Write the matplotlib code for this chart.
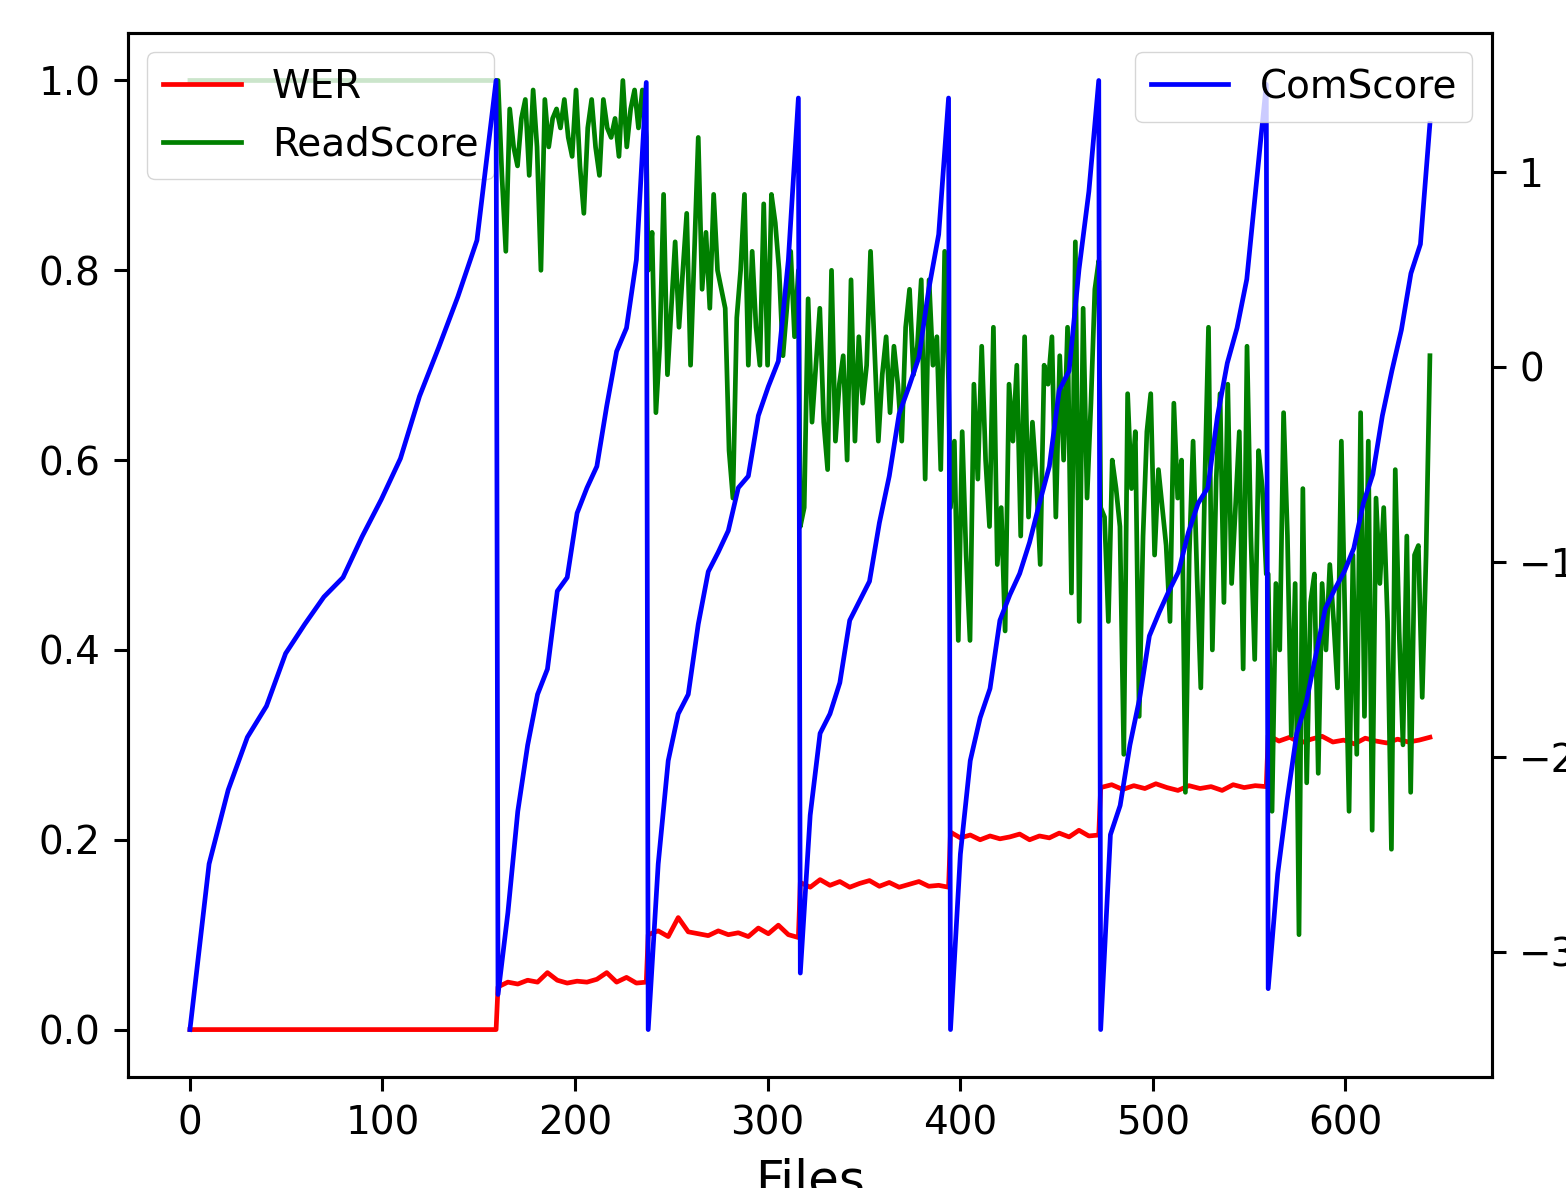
import numpy as np
import matplotlib
matplotlib.use('Agg')
import matplotlib.pyplot as plt

# file index range of each block (values inside a block are evenly spread over it)
seg_start = [0, 160, 238, 317, 395, 473, 560]
seg_end = [159, 237, 316, 394, 472, 559, 644]

# WER per block
wer = [
    [0.0, 0.0],
    [0.045, 0.050, 0.048, 0.052, 0.050, 0.060, 0.052, 0.049, 0.051, 0.050, 0.053, 0.060, 0.050, 0.055, 0.049, 0.050],
    [0.100, 0.104, 0.098, 0.118, 0.103, 0.101, 0.099, 0.104, 0.100, 0.102, 0.098, 0.107, 0.101, 0.110, 0.100, 0.097],
    [0.155, 0.150, 0.158, 0.152, 0.156, 0.150, 0.154, 0.157, 0.151, 0.155, 0.150, 0.153, 0.156, 0.151, 0.152, 0.150],
    [0.208, 0.202, 0.205, 0.200, 0.204, 0.201, 0.203, 0.206, 0.200, 0.204, 0.202, 0.207, 0.203, 0.210, 0.204, 0.205],
    [0.255, 0.258, 0.253, 0.257, 0.254, 0.259, 0.255, 0.252, 0.257, 0.254, 0.256, 0.252, 0.258, 0.255, 0.257, 0.256],
    [0.310, 0.304, 0.308, 0.302, 0.306, 0.309, 0.303, 0.305, 0.301, 0.307, 0.304, 0.302, 0.306, 0.303, 0.305, 0.308],
]

# ReadScore per block
read_score = [
    [1.0, 1.0],
    [1.00, 0.90, 0.82, 0.97, 0.93, 0.91, 0.96, 0.98, 0.90, 0.99, 0.93, 0.80, 0.98,
     0.93, 0.96, 0.97, 0.95, 0.98, 0.94, 0.92, 0.99, 0.91, 0.86, 0.95, 0.98, 0.93,
     0.90, 0.98, 0.95, 0.94, 0.96, 0.92, 1.00, 0.93, 0.97, 0.99, 0.95, 0.99, 0.94],
    [0.80, 0.84, 0.65, 0.72, 0.88, 0.69, 0.76, 0.83, 0.74, 0.80, 0.86, 0.70, 0.82,
     0.94, 0.78, 0.84, 0.76, 0.88, 0.80, 0.78, 0.76, 0.61, 0.56, 0.75, 0.80, 0.88,
     0.70, 0.82, 0.74, 0.70, 0.87, 0.70, 0.88, 0.85, 0.80, 0.71, 0.76, 0.82, 0.73, 0.80],
    [0.53, 0.55, 0.77, 0.64, 0.70, 0.76, 0.64, 0.59, 0.80, 0.62, 0.68, 0.71, 0.60,
     0.79, 0.62, 0.73, 0.66, 0.70, 0.82, 0.72, 0.62, 0.69, 0.73, 0.65, 0.72, 0.68,
     0.62, 0.74, 0.78, 0.69, 0.72, 0.79, 0.58, 0.79, 0.70, 0.73, 0.59, 0.82, 0.68],
    [0.55, 0.62, 0.41, 0.63, 0.50, 0.41, 0.68, 0.58, 0.72, 0.60, 0.53, 0.74, 0.49,
     0.55, 0.42, 0.68, 0.62, 0.70, 0.52, 0.73, 0.54, 0.64, 0.58, 0.49, 0.70, 0.68,
     0.73, 0.54, 0.71, 0.60, 0.74, 0.46, 0.83, 0.43, 0.76, 0.56, 0.66, 0.78, 0.81],
    [0.55, 0.54, 0.43, 0.60, 0.57, 0.53, 0.29, 0.67, 0.57, 0.63, 0.33, 0.52, 0.63,
     0.67, 0.50, 0.59, 0.55, 0.51, 0.43, 0.66, 0.56, 0.60, 0.25, 0.50, 0.62, 0.48,
     0.36, 0.57, 0.74, 0.40, 0.58, 0.67, 0.45, 0.68, 0.47, 0.55, 0.63, 0.38, 0.72,
     0.52, 0.39, 0.61, 0.57, 0.48],
    [0.48, 0.23, 0.47, 0.40, 0.65, 0.52, 0.31, 0.47, 0.10, 0.57, 0.26, 0.45, 0.48,
     0.27, 0.47, 0.40, 0.49, 0.43, 0.36, 0.62, 0.42, 0.23, 0.50, 0.29, 0.65, 0.33,
     0.62, 0.21, 0.56, 0.47, 0.55, 0.43, 0.19, 0.59, 0.42, 0.30, 0.52, 0.25, 0.50,
     0.51, 0.35, 0.50, 0.71],
]

# ComScore per block (right axis)
com_score = [
    [-3.40, -2.55, -2.17, -1.90, -1.74, -1.47, -1.32, -1.18, -1.08, -0.87, -0.68,
     -0.47, -0.15, 0.10, 0.36, 0.65, 1.47],
    [-3.22, -2.80, -2.28, -1.94, -1.68, -1.55, -1.15, -1.08, -0.75, -0.62, -0.51,
     -0.20, 0.08, 0.20, 0.55, 1.46],
    [-3.40, -2.55, -2.02, -1.78, -1.68, -1.32, -1.05, -0.95, -0.84, -0.62, -0.56,
     -0.25, -0.10, 0.03, 0.55, 1.38],
    [-3.11, -2.30, -1.88, -1.78, -1.62, -1.30, -1.20, -1.10, -0.80, -0.56, -0.24,
     -0.10, 0.05, 0.40, 0.68, 1.38],
    [-3.40, -2.50, -2.02, -1.80, -1.65, -1.30, -1.17, -1.06, -0.90, -0.70, -0.51,
     -0.12, -0.02, 0.50, 0.90, 1.47],
    [-3.40, -2.40, -2.25, -1.94, -1.70, -1.38, -1.26, -1.15, -1.05, -0.85, -0.70,
     -0.62, -0.25, 0.02, 0.20, 0.45, 0.95, 1.45],
    [-3.19, -2.60, -2.22, -1.88, -1.72, -1.48, -1.24, -1.14, -1.05, -0.93, -0.70,
     -0.55, -0.25, -0.02, 0.19, 0.48, 0.63, 1.25],
]


def stitch(blocks):
    xs, ys = [], []
    for s, e, vals in zip(seg_start, seg_end, blocks):
        xs.extend(np.linspace(s, e, len(vals)))
        ys.extend(vals)
    return xs, ys


plt.rcParams.update({
    'font.size': 28,
    'lines.linewidth': 3.4,
    'axes.linewidth': 2.2,
    'xtick.major.size': 9.8,
    'ytick.major.size': 9.8,
    'xtick.major.width': 2.2,
    'ytick.major.width': 2.2,
    'xtick.major.pad': 9.8,
    'ytick.major.pad': 9.8,
})

fig = plt.figure(figsize=(15.66, 11.88), dpi=100)
ax1 = fig.add_axes([0.0817, 0.0934, 0.871, 0.8788])
ax2 = ax1.twinx()

wx, wy = stitch(wer)
rx, ry = stitch(read_score)
cx, cy = stitch(com_score)

ax1.plot(wx, wy, color='red', label='WER')
ax1.plot(rx, ry, color='green', label='ReadScore')
ax2.plot(cx, cy, color='blue', label='ComScore')

ax1.set_xlabel('Files', fontsize=36, labelpad=11)
ax1.legend(loc='upper left')
ax2.legend(loc='upper right')

fig.savefig('out.png', dpi=100)
